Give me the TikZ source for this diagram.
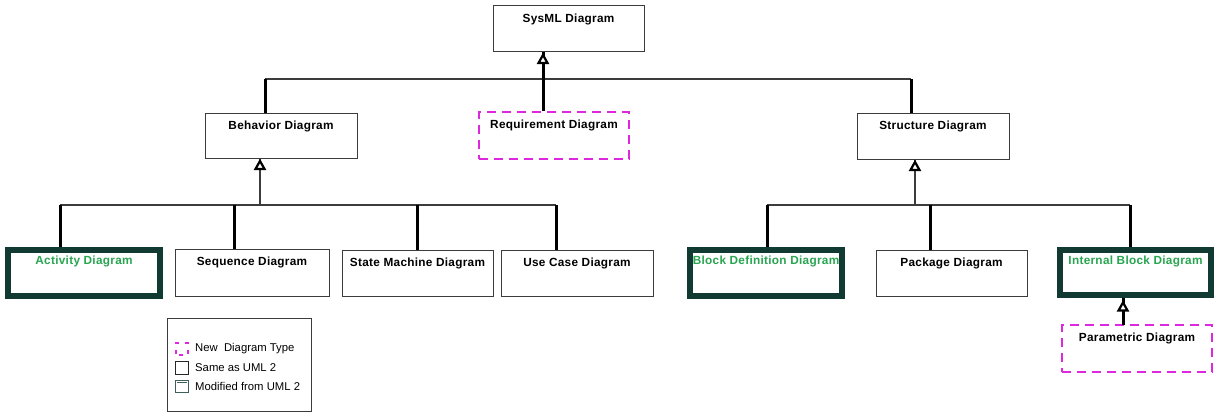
\documentclass[tikz,border=0pt]{standalone}
\usepackage{fontspec}
\setmainfont{Liberation Sans}
\usetikzlibrary{arrows.meta}
\definecolor{frameteal}{RGB}{16,58,50}
\definecolor{newgreen}{RGB}{40,165,80}
\definecolor{newmag}{RGB}{222,40,222}
\definecolor{edge}{RGB}{60,60,60}
\newfontfamily\ttlfont[LetterSpace=2.5]{Liberation Sans}
\tikzset{
  box/.style={draw=edge, line width=1pt, fill=white, inner sep=0pt, shape=rectangle},
  umlbox/.style={box},
  modbox/.style={draw=frameteal, line width=6pt, fill=white, inner sep=0pt, shape=rectangle},
  newbox/.style={draw=newmag, line width=1.6pt, dash pattern=on 9pt off 6pt, fill=white, inner sep=0pt, shape=rectangle},
  ttl/.style={font=\ttlfont\bfseries\fontsize{11.8}{13}\selectfont, inner sep=0pt, anchor=base, yshift=-17pt},
  gttl/.style={ttl, text=newgreen},
  bus/.style={draw=edge, line width=1.3pt},
  drop/.style={draw=black, line width=3pt},
  gen/.style={draw=edge, line width=1.3pt},
  tgen/.style={draw=black, line width=3pt},
  tri/.style={draw=black, fill=white, line width=2.2pt, line join=miter},
  leg/.style={font=\fontsize{11.3}{13}\selectfont, inner sep=0pt, anchor=west}
}
\begin{document}
\begin{tikzpicture}[x=1pt,y=-1pt]
\useasboundingbox (0,0) rectangle (1214,412);

% top level
\node[umlbox, minimum width=151pt, minimum height=46pt, label={[ttl]north:SysML Diagram}] (sysml) at (568.5,29) {};
\node[umlbox, minimum width=152pt, minimum height=45pt, label={[ttl]north:Behavior Diagram}] (behav) at (281,135.5) {};
\node[newbox, minimum width=150pt, minimum height=47pt, label={[ttl]north:Requirement Diagram}] (req) at (554,135.5) {};
\node[umlbox, minimum width=152pt, minimum height=46pt, label={[ttl]north:Structure Diagram}] (struct) at (933,136) {};

% behavior children
\node[modbox, minimum width=151.5pt, minimum height=46pt, label={[gttl]north:Activity Diagram}] (act) at (84,273) {};
\node[umlbox, minimum width=154pt, minimum height=47pt, label={[ttl]north:Sequence Diagram}] (seq) at (252,272.5) {};
\node[umlbox, minimum width=151pt, minimum height=46pt, label={[ttl]north:State Machine Diagram}] (stm) at (417.5,273) {};
\node[umlbox, minimum width=152pt, minimum height=46pt, label={[ttl]north:Use Case Diagram}] (uc) at (577,273) {};

% structure children
\node[modbox, minimum width=152pt, minimum height=46pt, label={[gttl]north:Block Definition Diagram}] (bdd) at (766,273) {};
\node[umlbox, minimum width=151pt, minimum height=46pt, label={[ttl]north:Package Diagram}] (pkg) at (951.5,273) {};
\node[modbox, minimum width=151pt, minimum height=45pt, label={[gttl]north:Internal Block Diagram}] (ibd) at (1135.5,272.5) {};
\node[newbox, minimum width=150pt, minimum height=47pt, label={[ttl]north:Parametric Diagram}] (par) at (1137,348.5) {};

% bus coordinates
\coordinate (t0) at (543,79);
\coordinate (tB) at (265,79);
\coordinate (tS) at (911,79);
\coordinate (b0) at (260,205);
\coordinate (bA) at (60,205);
\coordinate (bQ) at (234,205);
\coordinate (bM) at (417,205);
\coordinate (bU) at (556,205);
\coordinate (s0) at (915,205);
\coordinate (sB) at (767,205);
\coordinate (sP) at (930,205);
\coordinate (sI) at (1130,205);
\coordinate (pA) at (1123,325);

% top tree
\draw[bus] (tB) -- (tS);
\draw[tgen] (t0) -- (t0 |- sysml.south);
\draw[drop] (tB) -- (tB |- behav.north);
\draw[drop] (t0) -- (t0 |- req.north);
\draw[drop] (tS) -- (tS |- struct.north);

% behavior tree
\draw[bus] (bA) -- (bU);
\draw[gen] (b0) -- (b0 |- behav.south);
\draw[drop] (bA) -- (bA |- act.north);
\draw[drop] (bQ) -- (bQ |- seq.north);
\draw[drop] (bM) -- (bM |- stm.north);
\draw[drop] (bU) -- (bU |- uc.north);

% structure tree
\draw[bus] (sB) -- (sI);
\draw[gen] (s0) -- (s0 |- struct.south);
\draw[drop] (sB) -- (sB |- bdd.north);
\draw[drop] (sP) -- (sP |- pkg.north);
\draw[drop] (sI) -- (sI |- ibd.north);

% parametric -> ibd
\draw[tgen] (pA) -- (pA |- ibd.south);

% generalization triangles
\draw[tri] (t0 |- sysml.south) ++(0,2.5) -- ++(-4.5,8) -- ++(9,0) -- cycle;
\draw[tri] (b0 |- behav.south) ++(0,2.5) -- ++(-4.5,8) -- ++(9,0) -- cycle;
\draw[tri] (s0 |- struct.south) ++(0,2.5) -- ++(-4.5,8) -- ++(9,0) -- cycle;
\draw[tri] (pA |- ibd.south) ++(0,4.5) -- ++(-4.5,8) -- ++(9,0) -- cycle;

% legend
\node[box, minimum width=144pt, minimum height=93pt] (legend) at (239,364.5) {};
\node[draw=newmag, line width=1.2pt, dash pattern=on 4pt off 6pt, dash phase=-3pt, minimum size=12pt, inner sep=0pt] (iconNew) at (182,349) {};
\node[draw=black!85, line width=1pt, minimum size=12.5pt, inner sep=0pt] (iconSame) at (182,368) {};
\node[draw=frameteal!80, line width=1pt, minimum size=12.5pt, inner sep=0pt] (iconMod) at (182,386.5) {};
\draw[frameteal!80, line width=0.8pt] ([xshift=2pt,yshift=-3pt]iconMod.north west) -- ([xshift=-2pt,yshift=-3pt]iconMod.north east);
\node[leg] (tNew) at (195,349) {New\ \ Diagram Type};
\node[leg] (tSame) at (195,368) {Same as UML 2};
\node[leg] (tMod) at (195,386.5) {Modified from UML 2};
\end{tikzpicture}
\end{document}
